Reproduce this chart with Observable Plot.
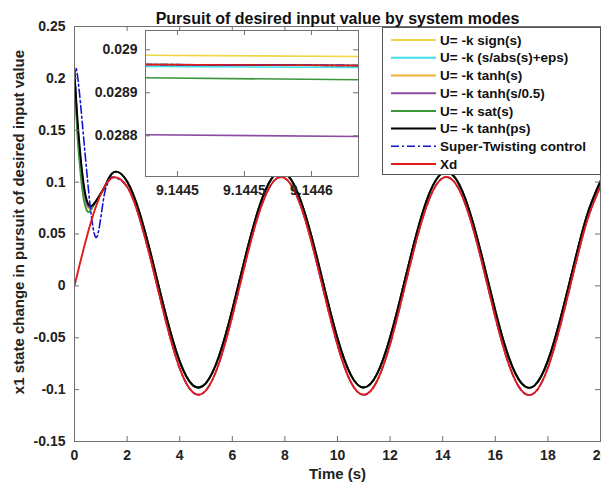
<!DOCTYPE html>
<html><head><meta charset="utf-8">
<script src="https://cdn.jsdelivr.net/npm/d3@7"></script>
<script src="https://cdn.jsdelivr.net/npm/@observablehq/plot@0.6"></script>
<style>
html,body{margin:0;padding:0;background:#fff;}
#wrap{position:relative;width:601px;height:491px;overflow:hidden;font-family:"Liberation Sans",Arial,sans-serif;}
#wrap > svg{position:absolute;}
</style></head><body><div id="wrap"></div>
<script>
// ---------- data ----------
const titleText = "Pursuit of desired input value by system modes";
const xLabel = "Time (s)";
const yLabel = "x1 state change in pursuit of desired input value";
const xTicks = [0, 2, 4, 6, 8, 10, 12, 14, 16, 18, 20];
const yTicks = [-0.15, -0.1, -0.05, 0, 0.05, 0.1, 0.15, 0.2, 0.25];
const xDomain = [0, 20];
const yDomain = [-0.15, 0.25];

const names = ["U= -k sign(s)", "U= -k (s/abs(s)+eps)", "U= -k tanh(s)", "U= -k tanh(s/0.5)",
               "U= -k sat(s)", "U= -k tanh(ps)", "Super-Twisting control", "Xd"];
const colors = ["#EED645", "#3FE0EC", "#EBB035", "#8B4CA3", "#3C963C", "#000000", "#1515D0", "#E21A1A"];

const tHead = [0, 0.1, 0.2, 0.3, 0.4, 0.5, 0.6, 0.7, 0.8, 0.9, 1.0, 1.2];
const tTail = [1.5, 2, 2.5, 3, 3.5, 4, 4.5, 5, 5.5, 6, 6.5, 7, 7.5, 8, 8.5, 9, 9.5, 10, 10.5, 11,
               11.5, 12, 12.5, 13, 13.5, 14, 14.5, 15, 15.5, 16, 16.5, 17, 17.5, 18, 18.5, 19, 19.5, 20];

const yellowHead = [0.204, 0.156, 0.124, 0.100, 0.084, 0.0755, 0.0745, 0.077, 0.081, 0.085, 0.089, 0.098];
const cyanHead   = [0.204, 0.160, 0.128, 0.104, 0.087, 0.078, 0.076, 0.0775, 0.081, 0.085, 0.089, 0.098];
const orangeHead = [0.204, 0.158, 0.126, 0.102, 0.086, 0.077, 0.0755, 0.0775, 0.081, 0.085, 0.089, 0.098];
const purpleHead = [0.204, 0.159, 0.127, 0.103, 0.0865, 0.0775, 0.0758, 0.0775, 0.081, 0.085, 0.089, 0.098];
const greenHead  = [0.204, 0.150, 0.117, 0.092, 0.078, 0.0715, 0.0725, 0.0765, 0.081, 0.085, 0.089, 0.098];
const blackHead  = [0.204, 0.165, 0.133, 0.108, 0.090, 0.080, 0.077, 0.078, 0.081, 0.085, 0.089, 0.098];
const blackTail  = [0.1097, 0.1006, 0.0682, 0.0207, -0.0305, -0.0727, -0.0957, -0.0937, -0.0674, -0.0231,
                    0.0284, 0.0743, 0.1036, 0.1089, 0.0890, 0.0489, -0.0018, -0.0506, -0.0855, -0.0980,
                    -0.0851, -0.0498, -0.0009, 0.0497, 0.0896, 0.1090, 0.1032, 0.0736, 0.0275, -0.0239,
                    -0.0680, -0.0940, -0.0959, -0.0721, -0.0292, 0.0216, 0.0690, 0.1009];

const tBlueHead = [0, 0.07, 0.2, 0.3, 0.4, 0.5, 0.6, 0.7, 0.8, 0.9, 1.0, 1.1, 1.2, 1.35];
const blueHead  = [0.200, 0.209, 0.183, 0.156, 0.128, 0.101, 0.076, 0.057, 0.047, 0.051, 0.066, 0.083, 0.095, 0.103];

const redHead = [0, 0.0105, 0.0209, 0.0310, 0.0409, 0.0503, 0.0593, 0.0676, 0.0753, 0.0822, 0.0884, 0.0979];
const redTail = [0.1047, 0.0955, 0.0628, 0.0148, -0.0368, -0.0795, -0.1026, -0.1007, -0.0741, -0.0293,
                 0.0226, 0.0690, 0.0985, 0.1039, 0.0838, 0.0433, -0.0079, -0.0571, -0.0924, -0.1050,
                 -0.0919, -0.0563, -0.0070, 0.0441, 0.0844, 0.1040, 0.0982, 0.0683, 0.0217, -0.0302,
                 -0.0747, -0.1009, -0.1029, -0.0789, -0.0355, 0.0157, 0.0636, 0.0959];

// inset (zoom around t = 9.1445)
const insetXDomain = [9.1444709, 9.1445981];
const insetYDomain = [0.0287053, 0.0290449];
const insetXTicks = [9.14449, 9.14453, 9.14457];
const insetYTicks = [0.0288, 0.0289, 0.029];
const insetT = [9.14447, 9.14460];
const insetYellow = [0.0289874, 0.0289844];
const insetCyan   = [0.0289612, 0.0289590];
const insetOrange = [0.0289658, 0.0289635];
const insetPurple = [0.0288023, 0.0287984];
const insetGreen  = [0.0289349, 0.0289302];
const insetBlack  = [0.0289658, 0.0289635];
const insetBlue   = [0.0289658, 0.0289635];
const insetRed    = [0.0289658, 0.0289635];

// ---------- build ----------
const FONT = '"Liberation Sans", Arial, sans-serif';
const AX = "#707070";
const TXT = "#222";
const zip = (ts, vs) => ts.map((t, i) => ({t, v: vs[i]}));

const mainSeries = [
  zip(tHead.concat(tTail), yellowHead.concat(blackTail)),
  zip(tHead.concat(tTail), cyanHead.concat(blackTail)),
  zip(tHead.concat(tTail), orangeHead.concat(blackTail)),
  zip(tHead.concat(tTail), purpleHead.concat(blackTail)),
  zip(tHead.concat(tTail), greenHead.concat(blackTail)),
  zip(tHead.concat(tTail), blackHead.concat(blackTail)),
  zip(tBlueHead.concat(tTail), blueHead.concat(redTail)),
  zip(tHead.concat(tTail), redHead.concat(redTail))
];
const insetSeries = [insetYellow, insetCyan, insetOrange, insetPurple, insetGreen, insetBlack, insetBlue, insetRed]
  .map(v => zip(insetT, v));

const DASH = "8,3,2,3";
const wrap = document.getElementById("wrap");

const main = Plot.plot({
  width: 601, height: 491,
  marginTop: 26, marginBottom: 50, marginLeft: 74, marginRight: 1,
  x: {domain: xDomain},
  y: {domain: yDomain},
  style: {fontFamily: FONT, fontSize: "14px", fontWeight: "bold", color: TXT, background: "white", overflow: "visible"},
  marks: [
    ...mainSeries.map((d, i) => Plot.line(d, {
      x: "t", y: "v", stroke: colors[i],
      strokeWidth: i === 6 ? 1.6 : 1.9,
      strokeDasharray: i === 6 ? DASH : null,
      curve: "natural", clip: true
    })),
    Plot.ruleX(xTicks, {stroke: AX, insetTop: 410}),
    Plot.ruleX(xTicks, {stroke: AX, insetBottom: 410}),
    Plot.ruleY(yTicks, {stroke: AX, insetRight: 521}),
    Plot.ruleY(yTicks, {stroke: AX, insetLeft: 521}),
    Plot.frame({stroke: AX}),
    Plot.axisX({ticks: xTicks, tickSize: 0, tickPadding: 9, tickFormat: d => String(d), label: null, fontSize: 14, fontWeight: "bold"}),
    Plot.axisY({ticks: yTicks, tickSize: 0, tickPadding: 9, tickFormat: d => String(d), label: null, fontSize: 14, fontWeight: "bold"}),
    Plot.text([titleText], {text: d => d, frameAnchor: "top", dy: -14, fontSize: 16, fontWeight: "bold", fill: "#111"}),
    Plot.text([xLabel], {text: d => d, frameAnchor: "bottom", dy: 37, fontSize: 15, fontWeight: "bold"}),
    Plot.text([yLabel], {text: d => d, frameAnchor: "left", textAnchor: "middle", dx: -55, dy: -12, rotate: -90, fontSize: 15, fontWeight: "bold"})
  ]
});
main.style.left = "0px"; main.style.top = "0px";
wrap.appendChild(main);

const inset = Plot.plot({
  width: 275, height: 176,
  marginTop: 2, marginBottom: 28, marginLeft: 60, marginRight: 2,
  x: {domain: insetXDomain},
  y: {domain: insetYDomain},
  style: {fontFamily: FONT, fontSize: "14px", fontWeight: "bold", color: TXT, background: "transparent", overflow: "visible"},
  marks: [
    Plot.frame({fill: "white"}),
    ...insetSeries.map((d, i) => Plot.line(d, {
      x: "t", y: "v", stroke: colors[i],
      strokeWidth: 1.6,
      strokeDasharray: i === 6 ? DASH : null,
      clip: true
    })),
    Plot.ruleX(insetXTicks, {stroke: AX, insetTop: 141}),
    Plot.ruleX(insetXTicks, {stroke: AX, insetBottom: 141}),
    Plot.ruleY(insetYTicks, {stroke: AX, insetRight: 208}),
    Plot.ruleY(insetYTicks, {stroke: AX, insetLeft: 208}),
    Plot.frame({stroke: AX}),
    Plot.axisX({ticks: insetXTicks, tickSize: 0, tickPadding: 9, tickFormat: d3.format(".4f"), label: null, fontSize: 14, fontWeight: "bold"}),
    Plot.axisY({ticks: insetYTicks, tickSize: 0, tickPadding: 8, tickFormat: d => String(d), label: null, fontSize: 14, fontWeight: "bold"})
  ]
});
inset.style.left = "85px"; inset.style.top = "28px";
wrap.appendChild(inset);

// legend
const leg = d3.select(wrap).append("svg")
  .attr("width", 219).attr("height", 148)
  .style("left", "382px").style("top", "27px");
leg.append("rect").attr("x", 0.5).attr("y", 0.5).attr("width", 218).attr("height", 147)
  .attr("fill", "white").attr("stroke", "#555");
names.forEach((n, i) => {
  const y = 13 + i * 17.72;
  leg.append("line").attr("x1", 9).attr("x2", 54).attr("y1", y).attr("y2", y)
    .attr("stroke", colors[i]).attr("stroke-width", i === 6 ? 1.6 : 2)
    .attr("stroke-dasharray", i === 6 ? DASH : null);
  leg.append("text").attr("x", 58).attr("y", y).attr("dy", "0.35em")
    .attr("font-family", FONT).attr("font-size", 13.5).attr("font-weight", "bold")
    .attr("fill", "#111").text(n);
});
</script></body></html>
